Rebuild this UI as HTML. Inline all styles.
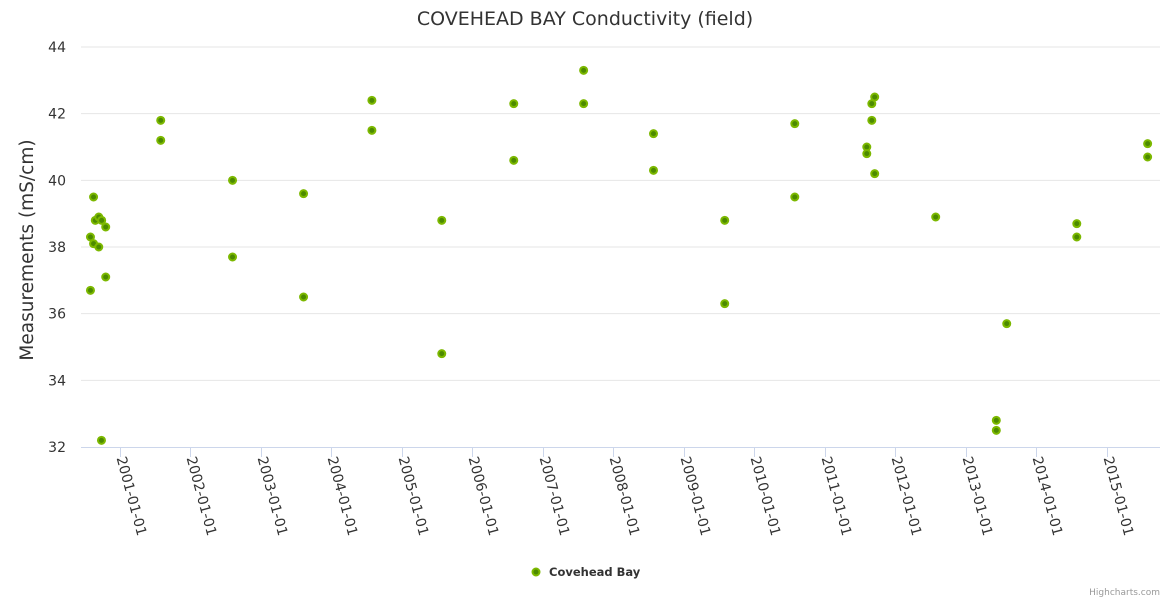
<!DOCTYPE html>
<html><head><meta charset="utf-8"><style>
body{margin:0;background:#fff;font-family:"DejaVu Sans",sans-serif}
svg text{font-family:"DejaVu Sans",sans-serif}
</style></head><body>
<svg id="chart" width="1170" height="600" viewBox="0 0 1170 600">
<text x="585" y="25" text-anchor="middle" font-size="19" fill="#333">COVEHEAD BAY Conductivity (field)</text>
<text transform="translate(33,250) rotate(-90)" text-anchor="middle" font-size="18.5" fill="#333">Measurements (mS/cm)</text>
<g id="grid"></g><g id="xaxis"></g><g id="pts"></g>
<g>
<circle cx="536" cy="572" r="3.5" fill="#4c8a00" stroke="#7cb800" stroke-width="2"/>
<text x="549" y="576" font-size="11.5" font-weight="bold" fill="#333">Covehead Bay</text>
</g>
<text x="1160" y="595" text-anchor="end" font-size="9" fill="#999">Highcharts.com</text>
</svg>
<script>
const dates=["2000-08-17","2000-08-26","2000-09-13","2000-09-28","2000-10-19","2000-08-01","2000-08-17","2000-09-13","2000-10-19","2000-08-01","2000-09-27",
"2001-07-31","2001-07-31","2002-08-07","2002-08-07","2003-08-10","2003-08-10","2004-07-29","2004-07-29","2005-07-26","2005-07-26",
"2006-08-03","2006-08-03","2007-07-31","2007-07-31","2008-07-27","2008-07-27","2009-07-31","2009-07-31","2010-07-29","2010-07-29",
"2011-08-06","2011-08-06","2011-09-01","2011-09-01","2011-09-16","2011-09-16","2012-07-28","2013-06-07","2013-06-07","2013-07-31",
"2014-07-29","2014-07-29","2015-07-31","2015-07-31"];
const values=[39.5,38.8,38.9,38.8,38.6,38.3,38.1,38.0,37.1,36.7,32.2,
41.8,41.2,40.0,37.7,39.6,36.5,42.4,41.5,38.8,34.8,
42.3,40.6,43.3,42.3,41.4,40.3,38.8,36.3,41.7,39.5,
41.0,40.8,42.3,41.8,42.5,40.2,38.9,32.8,32.5,35.7,
38.7,38.3,41.1,40.7];
const yTicks=[32,34,36,38,40,42,44];
const xTickYears=[2001,2002,2003,2004,2005,2006,2007,2008,2009,2010,2011,2012,2013,2014,2015];
const NS="http://www.w3.org/2000/svg";
const t0=Date.UTC(2001,0,1);
function xs(t){return 120+(t-t0)/86400000*(70.5/365.25);}
function ys(v){return 447-(v-32)*(400/12);}
function mk(tag,attrs,parent){const e=document.createElementNS(NS,tag);for(const k in attrs)e.setAttribute(k,attrs[k]);parent.appendChild(e);return e;}
const grid=document.getElementById('grid');
yTicks.forEach(v=>{
  const y=ys(v);
  if(v!==32){const l=mk('line',{x1:81,x2:1160,y1:y,y2:y,stroke:'#e6e6e6','stroke-width':1},grid);
  
  }
  const t=mk('text',{x:66,y:y+5,'text-anchor':'end','font-size':14,fill:'#333'},grid);
  t.textContent=v;
  
  
});
const xa=document.getElementById('xaxis');
const al=mk('line',{x1:81,x2:1160,y1:447.5,y2:447.5,stroke:'#ccd6eb','stroke-width':1},xa);


xTickYears.forEach(yr=>{
  const x=Math.round(xs(Date.UTC(yr,0,1)))+0.5;
  const tk=mk('line',{x1:x,x2:x,y1:447,y2:457,stroke:'#ccd6eb'},xa);
  
  
  const t=mk('text',{transform:`translate(${x-4},458) rotate(75)`,'font-size':14,fill:'#333'},xa);
  t.textContent=yr+'-01-01';
  
  
});
const pts=document.getElementById('pts');
dates.forEach((d,i)=>{
  const p=d.split('-').map(Number);
  const c=mk('circle',{cx:xs(Date.UTC(p[0],p[1]-1,p[2])),cy:ys(values[i]),r:3.5,fill:'#4c8a00',stroke:'#7cb800','stroke-width':2},pts);
  
  
});
</script>
</body></html>
